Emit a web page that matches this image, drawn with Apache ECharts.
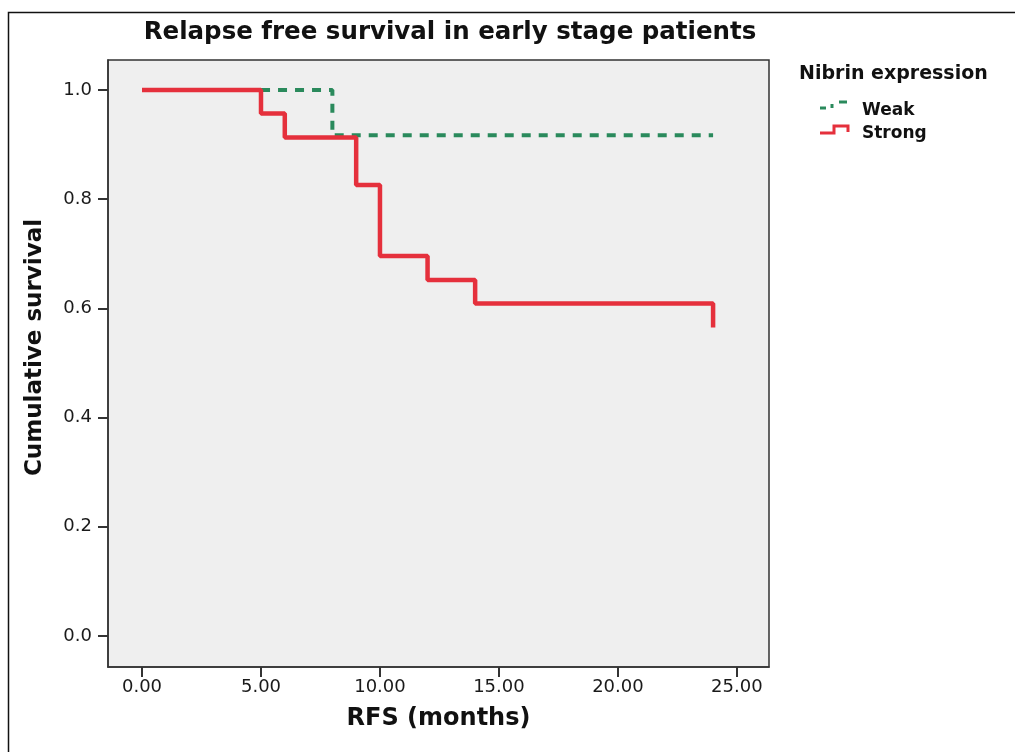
<!DOCTYPE html>
<html>
<head>
<meta charset="utf-8">
<script src="https://cdn.jsdelivr.net/npm/echarts@6/dist/echarts.min.js"></script>
<style>html,body{margin:0;padding:0;background:#fff}#c{width:1015px;height:752px}</style>
</head>
<body>
<div id="c"></div>
<script>
const strongTimes = [0, 5, 6, 9, 10, 12, 14, 24];
const strongSurv  = [1.0, 0.957, 0.913, 0.826, 0.696, 0.652, 0.609, 0.565];
const weakTimes   = [0, 8, 24];
const weakSurv    = [1.0, 0.917, 0.917];
const xTicks = [0, 5, 10, 15, 20, 25];
const yTicks = [0, 0.2, 0.4, 0.6, 0.8, 1.0];
const seriesNames = ['Weak', 'Strong'];

const font = '"DejaVu Sans", sans-serif';
const chart = echarts.init(document.getElementById('c'));
chart.setOption({
  animation: false,
  backgroundColor: '#fff',
  title: [
    { text: 'Relapse free survival in early stage patients', left: 445, top: 15, textAlign: 'center',
      textStyle: { fontFamily: font, fontSize: 24.5, fontWeight: 'bold', color: '#111' } },
    { text: 'Nibrin expression', left: 794, top: 60,
      textStyle: { fontFamily: font, fontSize: 19, fontWeight: 'bold', color: '#111' } }
  ],
  legend: {
    data: seriesNames,
    orient: 'vertical', left: 818, top: 97,
    itemWidth: 30, itemHeight: 12, itemGap: 6,
    textStyle: { fontFamily: font, fontSize: 17, fontWeight: 'bold', color: '#111', padding: [0,0,0,4] },
    selectedMode: false,
    icon: 'none'
  },
  grid: { left: 108, top: 60, right: 246, bottom: 85, show: true,
          backgroundColor: '#efefef', borderColor: '#333', borderWidth: 1.5 },
  xAxis: {
    type: 'value', min: -1.43, max: 26.35,
    name: 'RFS (months)', nameLocation: 'middle', nameGap: 40,
    nameTextStyle: { fontFamily: font, fontSize: 24, fontWeight: 'bold', color: '#111' },
    axisLine: { show: true, onZero: false, lineStyle: { color: '#333', width: 1.5 } },
    axisTick: { show: true, inside: false, length: 10, customValues: xTicks, lineStyle: { color: '#333', width: 2 } },
    axisLabel: { customValues: xTicks, formatter: v => v.toFixed(2), margin: 11,
                 fontFamily: font, fontSize: 18, color: '#1a1a1a' },
    splitLine: { show: false }
  },
  yAxis: {
    type: 'value', min: -0.057, max: 1.055,
    name: 'Cumulative survival', nameLocation: 'middle', nameGap: 61, nameRotate: 90,
    nameTextStyle: { fontFamily: font, fontSize: 23, fontWeight: 'bold', color: '#111', padding: [0, 0, 0, 32] },
    axisLine: { show: true, onZero: false, lineStyle: { color: '#333', width: 1.5 } },
    axisTick: { show: true, inside: false, length: 10, customValues: yTicks, lineStyle: { color: '#333', width: 2 } },
    axisLabel: { customValues: yTicks, formatter: v => v.toFixed(1), margin: 16,
                 fontFamily: font, fontSize: 18, color: '#1a1a1a' },
    splitLine: { show: false }
  },
  series: [
    { name: 'Weak', type: 'line', step: 'end', symbol: 'none',
      data: weakTimes.map((t, i) => [t, weakSurv[i]]),
      lineStyle: { color: '#2a8a5c', width: 4, type: [9, 8] },
      itemStyle: { color: '#2a8a5c' }, z: 2 },
    { name: 'Strong', type: 'line', step: 'end', symbol: 'none',
      data: strongTimes.map((t, i) => [t, strongSurv[i]]),
      lineStyle: { color: '#e5303c', width: 4.5 },
      itemStyle: { color: '#e5303c' }, z: 3 }
  ],
  graphic: [
    { type: 'rect', shape: { x: 8.5, y: 12.5, width: 1030, height: 800 },
      style: { fill: 'none', stroke: '#111', lineWidth: 1.5 }, silent: true },
    { type: 'polyline', shape: { points: [[820, 108], [826, 108]] }, style: { stroke: '#2a8a5c', lineWidth: 3 } },
    { type: 'polyline', shape: { points: [[832, 104], [832, 108]] }, style: { stroke: '#2a8a5c', lineWidth: 3 } },
    { type: 'polyline', shape: { points: [[839, 102], [847, 102]] }, style: { stroke: '#2a8a5c', lineWidth: 3 } },
    { type: 'polyline', shape: { points: [[820, 133], [834, 133], [834, 126], [848, 126], [848, 132]] },
      style: { stroke: '#e5303c', lineWidth: 3, fill: 'none' } }
  ]
});
</script>
</body>
</html>
